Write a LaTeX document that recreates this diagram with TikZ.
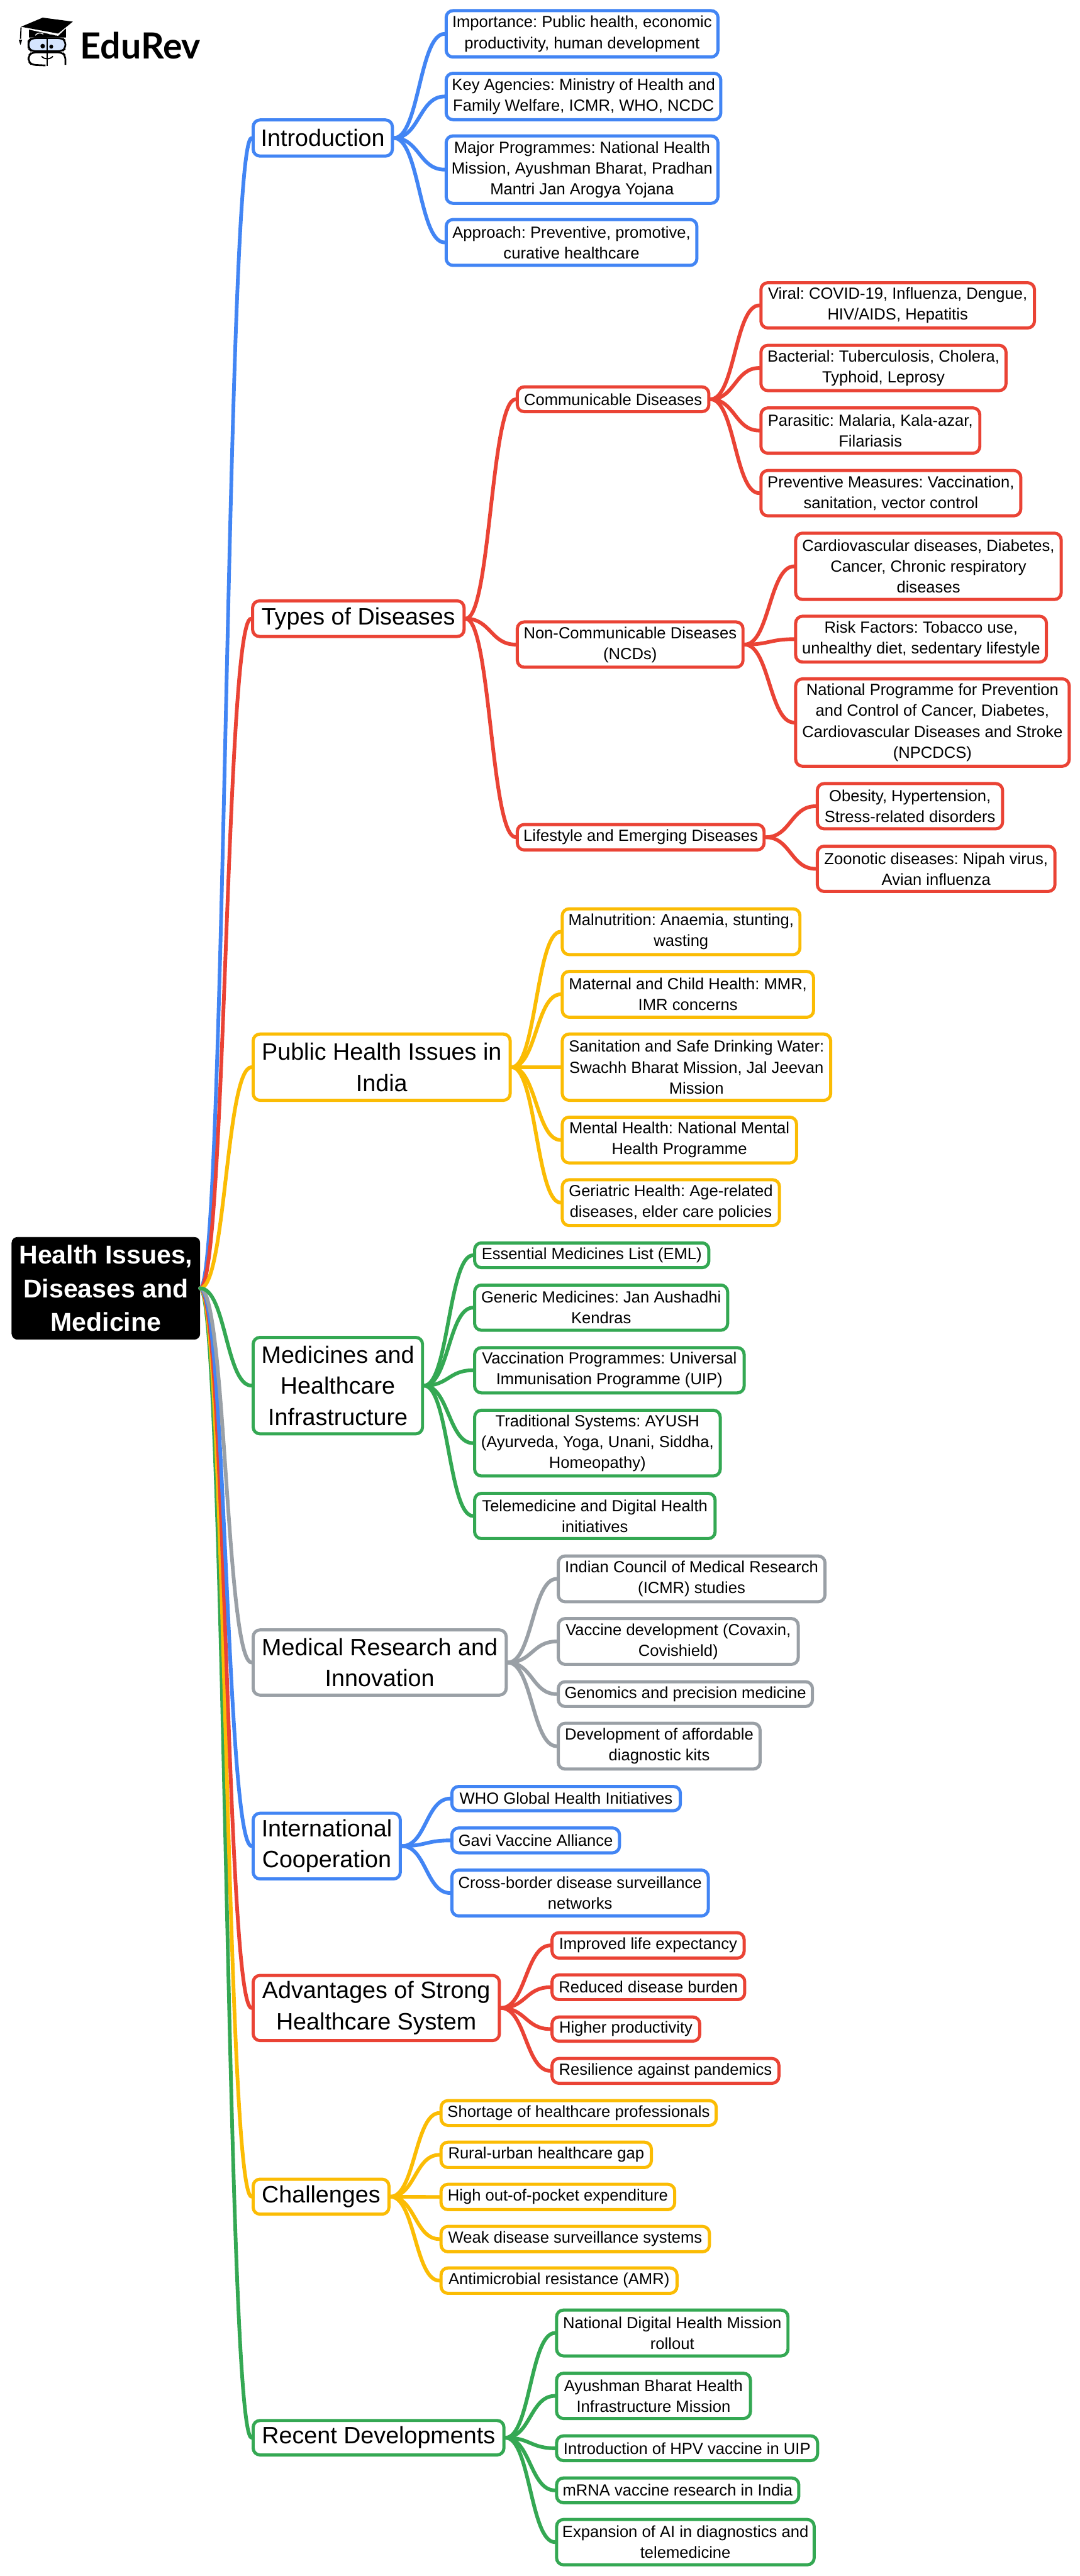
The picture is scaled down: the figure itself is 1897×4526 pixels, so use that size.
\documentclass[tikz,border=0pt]{standalone}
\usepackage{fontspec}
\setmainfont{Liberation Sans}
\newfontfamily\logofont{Lato}
\frenchspacing
\usetikzlibrary{calc}
\definecolor{mapblue}{HTML}{4285F4}
\definecolor{mapred}{HTML}{EA4335}
\definecolor{mapyellow}{HTML}{FBBC04}
\definecolor{mapgreen}{HTML}{34A853}
\definecolor{mapgrey}{HTML}{9AA0A6}
\tikzset{
	root/.style={rectangle, draw=black, fill=black, text=white, rounded corners=10*0.02cm, align=center, inner sep=0, font=\fontsize{25.8}{33.6}\selectfont\bfseries},
	branch/.style={rectangle, draw, fill=white, line width=5.5*0.02cm, rounded corners=12*0.02cm, align=center, inner sep=0, font=\fontsize{23.7}{31.2}\selectfont},
	leaf/.style={rectangle, draw, fill=white, line width=5.5*0.02cm, rounded corners=12*0.02cm, align=center, inner sep=0, font=\fontsize{16.1}{20.8}\selectfont},
	size/.style 2 args={minimum width=(#1-5.5)*0.02cm, minimum height=(#2-5.5)*0.02cm},
	curve/.style={line width=6.5*0.02cm, line cap=round, to path={.. controls ($(\tikztostart)!.5!(\tikztostart-|\tikztotarget)$) and ($(\tikztotarget)!.5!(\tikztotarget-|\tikztostart)$) .. (\tikztotarget)}}
}
\begin{document}
\begin{tikzpicture}[x=0.02cm, y=-0.02cm]
\useasboundingbox (0,0) rectangle (1897,4526);

% logo
\draw[black, line width=3*0.02cm, rounded corners=7*0.02cm] (83,67) -- (56,67) -- (50,72) -- (50,85) -- (56,90) -- (83,90);
\fill[mapblue!22, rounded corners=5*0.02cm] (51,68) rectangle (115,89);
\draw[black, line width=3*0.02cm, rounded corners=7*0.02cm] (50,78) -- (50,72) -- (56,67) -- (109,67) -- (115,72) -- (115,85) -- (109,90) -- (56,90) -- (50,85) -- cycle;
\draw[black, line width=3*0.02cm, rounded corners=7*0.02cm] (80,115) -- (56,114) -- (50,108) -- (50,98) -- (56,92) -- (109,92) -- (115,98) -- (115,114);
\fill[black] (51,52) -- (116,50) -- (116,66) -- (51,66) -- cycle;
\fill[white] (75,32) -- (128,38) -- (102,63) -- (37,49) -- cycle;
\fill[black] (75,31) -- (128,38) -- (102,59) -- (37,47) -- cycle;
\draw[white, line width=1.5*0.02cm] (62,62) .. controls (66,57) and (72,57) .. (76,60);
\draw[white, line width=1.5*0.02cm] (87,60) .. controls (91,58) and (95,58) .. (98,62);
\draw[black, line width=2*0.02cm] (37,48) -- (36,68);
\fill[black] (33,70) -- (39,70) -- (36,79) -- cycle;
\draw[black, line width=3*0.02cm] (83,67) -- (83,116);
\fill[black] (75,81) circle (4);
\fill[black] (90,82) circle (3.5);
\draw[black, line width=2*0.02cm] (73,99) .. controls (79,105) and (87,105) .. (93,99);
\node[anchor=base west, inner sep=0, font=\logofont\fontsize{36}{36}\selectfont\bfseries] (logotext) at (141,103) {EduRev};

% main
\node[root, size={336}{185}] (health) at (186,2263.5) {Health Issues,\\Diseases and\\Medicine};

\node[branch, draw=mapblue, size={250}{69}] (intro) at (567,242.5) {Introduction};
\node[leaf, draw=mapblue, size={483}{87}] (importance) at (1022.5,59.5) {Importance: Public health, economic\\productivity, human development};
\node[leaf, draw=mapblue, size={488}{87}] (agencies) at (1025,169.5) {Key Agencies: Ministry of Health and\\Family Welfare, ICMR, WHO, NCDC};
\node[leaf, draw=mapblue, size={483}{124}] (programmes) at (1022.5,298) {Major Programmes: National Health\\Mission, Ayushman Bharat, Pradhan\\Mantri Jan Arogya Yojana};
\node[leaf, draw=mapblue, size={446}{86}] (approach) at (1004,426) {Approach: Preventive, promotive,\\curative healthcare};

\node[branch, draw=mapred, size={377}{68}] (types) at (629.5,1087) {Types of Diseases};
\node[leaf, draw=mapred, size={342}{49}] (communicable) at (1077,701.5) {Communicable Diseases};
\node[leaf, draw=mapred, size={486}{85}] (viral) at (1577,536.5) {Viral: COVID-19, Influenza, Dengue,\\HIV/AIDS, Hepatitis};
\node[leaf, draw=mapred, size={436}{85}] (bacterial) at (1552,646.5) {Bacterial: Tuberculosis, Cholera,\\Typhoid, Leprosy};
\node[leaf, draw=mapred, size={390}{85}] (parasitic) at (1529,756.5) {Parasitic: Malaria, Kala-azar,\\Filariasis};
\node[leaf, draw=mapred, size={462}{85}] (preventive) at (1565,866.5) {Preventive Measures: Vaccination,\\sanitation, vector control};
\node[leaf, draw=mapred, size={402}{85}] (ncd) at (1107,1132.5) {Non-Communicable Diseases\\(NCDs)};
\node[leaf, draw=mapred, size={472}{122}] (cardio) at (1631,995) {Cardiovascular diseases, Diabetes,\\Cancer, Chronic respiratory\\diseases};
\node[leaf, draw=mapred, size={446}{86}] (risk) at (1618,1123) {Risk Factors: Tobacco use,\\unhealthy diet, sedentary lifestyle};
\node[leaf, draw=mapred, size={486}{159}] (npcdcs) at (1638,1269.5) {National Programme for Prevention\\and Control of Cancer, Diabetes,\\Cardiovascular Diseases and Stroke\\(NPCDCS)};
\node[leaf, draw=mapred, size={439}{50}] (lifestyle) at (1125.5,1471) {Lifestyle and Emerging Diseases};
\node[leaf, draw=mapred, size={331}{85}] (obesity) at (1598.5,1416.5) {Obesity, Hypertension,\\Stress-related disorders};
\node[leaf, draw=mapred, size={423}{85}] (zoonotic) at (1644.5,1526.5) {Zoonotic diseases: Nipah virus,\\Avian influenza};

\node[branch, draw=mapyellow, size={457}{122}] (public) at (670.5,1875) {Public Health Issues in\\India};
\node[leaf, draw=mapyellow, size={423}{86}] (malnutrition) at (1196.5,1637) {Malnutrition: Anaemia, stunting,\\wasting};
\node[leaf, draw=mapyellow, size={447}{86}] (maternal) at (1208.5,1747) {Maternal and Child Health: MMR,\\IMR concerns};
\node[leaf, draw=mapyellow, size={477}{122}] (sanitation) at (1223.5,1875) {Sanitation and Safe Drinking Water:\\Swachh Bharat Mission, Jal Jeevan\\Mission};
\node[leaf, draw=mapyellow, size={417}{86}] (mental) at (1193.5,2003) {Mental Health: National Mental\\Health Programme};
\node[leaf, draw=mapyellow, size={387}{86}] (geriatric) at (1178.5,2113) {Geriatric Health: Age-related\\diseases, elder care policies};

\node[branch, draw=mapgreen, size={303}{175}] (medicines) at (593.5,2434.5) {Medicines and\\Healthcare\\Infrastructure};
\node[leaf, draw=mapgreen, size={417}{49}] (eml) at (1039.5,2205.5) {Essential Medicines List (EML)};
\node[leaf, draw=mapgreen, size={450}{85}] (generic) at (1056,2297.5) {Generic Medicines: Jan Aushadhi\\Kendras};
\node[leaf, draw=mapgreen, size={479}{85}] (vaccination) at (1070.5,2407.5) {Vaccination Programmes: Universal\\Immunisation Programme (UIP)};
\node[leaf, draw=mapgreen, size={437}{121}] (traditional) at (1049.5,2535.5) {Traditional Systems: AYUSH\\(Ayurveda, Yoga, Unani, Siddha,\\Homeopathy)};
\node[leaf, draw=mapgreen, size={428}{85}] (telemedicine) at (1045,2663.5) {Telemedicine and Digital Health\\initiatives};

\node[branch, draw=mapgrey, size={450}{120}] (research) at (667,2921) {Medical Research and\\Innovation};
\node[leaf, draw=mapgrey, size={474}{86}] (icmr) at (1215,2774) {Indian Council of Medical Research\\(ICMR) studies};
\node[leaf, draw=mapgrey, size={427}{86}] (vaccine) at (1191.5,2884) {Vaccine development (Covaxin,\\Covishield)};
\node[leaf, draw=mapgrey, size={452}{49}] (genomics) at (1204,2976.5) {Genomics and precision medicine};
\node[leaf, draw=mapgrey, size={360}{86}] (diagnostic) at (1158,3068) {Development of affordable\\diagnostic kits};

\node[branch, draw=mapblue, size={264}{121}] (international) at (574,3243.5) {International\\Cooperation};
\node[leaf, draw=mapblue, size={407}{48}] (who) at (994.5,3160) {WHO Global Health Initiatives};
\node[leaf, draw=mapblue, size={300}{49}] (gavi) at (941,3233.5) {Gavi Vaccine Alliance};
\node[leaf, draw=mapblue, size={456}{86}] (crossborder) at (1019,3326) {Cross-border disease surveillance\\networks};

\node[branch, draw=mapred, size={438}{120}] (advantages) at (661,3528) {Advantages of Strong\\Healthcare System};
\node[leaf, draw=mapred, size={343}{50}] (life) at (1138.5,3418) {Improved life expectancy};
\node[leaf, draw=mapred, size={344}{49}] (burden) at (1139,3491.5) {Reduced disease burden};
\node[leaf, draw=mapred, size={265}{48}] (productivity) at (1099.5,3565) {Higher productivity};
\node[leaf, draw=mapred, size={404}{49}] (resilience) at (1169,3638.5) {Resilience against pandemics};

\node[branch, draw=mapyellow, size={244}{67}] (challenges) at (564,3859.5) {Challenges};
\node[leaf, draw=mapyellow, size={489}{49}] (shortage) at (1016.5,3712.5) {Shortage of healthcare professionals};
\node[leaf, draw=mapyellow, size={375}{50}] (gap) at (959.5,3786) {Rural-urban healthcare gap};
\node[leaf, draw=mapyellow, size={416}{50}] (expenditure) at (980,3860) {High out-of-pocket expenditure};
\node[leaf, draw=mapyellow, size={477}{50}] (surveillance) at (1010.5,3934) {Weak disease surveillance systems};
\node[leaf, draw=mapyellow, size={420}{50}] (amr) at (982,4007) {Antimicrobial resistance (AMR)};

\node[branch, draw=mapgreen, size={446}{66}] (recent) at (665,4283) {Recent Developments};
\node[leaf, draw=mapgreen, size={412}{86}] (digital) at (1181,4099) {National Digital Health Mission\\rollout};
\node[leaf, draw=mapgreen, size={346}{85}] (infrastructure) at (1148,4209.5) {Ayushman Bharat Health\\Infrastructure Mission};
\node[leaf, draw=mapgreen, size={464}{49}] (hpv) at (1207,4301.5) {Introduction of HPV vaccine in UIP};
\node[leaf, draw=mapgreen, size={431}{49}] (mrna) at (1190.5,4375.5) {mRNA vaccine research in India};
\node[leaf, draw=mapgreen, size={458}{85}] (expansion) at (1204,4466.5) {Expansion of AI in diagnostics and\\telemedicine};

% root links
\draw[curve, mapblue] (health.east) to (intro.west);
\draw[curve, mapred] (health.east) to (types.west);
\draw[curve, mapyellow] (health.east) to (public.west);
\draw[curve, mapgreen] (health.east) to (recent.west);
\draw[curve, mapyellow] (health.east) to (challenges.west);
\draw[curve, mapred] (health.east) to (advantages.west);
\draw[curve, mapblue] (health.east) to (international.west);
\draw[curve, mapgrey] (health.east) to (research.west);
\draw[curve, mapgreen] (health.east) to (medicines.west);

% branch links
\foreach \leafname in {importance, agencies, programmes, approach}
	\draw[curve, mapblue] (intro.east) to (\leafname.west);
\foreach \leafname in {communicable, ncd, lifestyle}
	\draw[curve, mapred] (types.east) to (\leafname.west);
\foreach \leafname in {viral, bacterial, parasitic, preventive}
	\draw[curve, mapred] (communicable.east) to (\leafname.west);
\foreach \leafname in {cardio, risk, npcdcs}
	\draw[curve, mapred] (ncd.east) to (\leafname.west);
\foreach \leafname in {obesity, zoonotic}
	\draw[curve, mapred] (lifestyle.east) to (\leafname.west);
\foreach \leafname in {malnutrition, maternal, sanitation, mental, geriatric}
	\draw[curve, mapyellow] (public.east) to (\leafname.west);
\foreach \leafname in {eml, generic, vaccination, traditional, telemedicine}
	\draw[curve, mapgreen] (medicines.east) to (\leafname.west);
\foreach \leafname in {icmr, vaccine, genomics, diagnostic}
	\draw[curve, mapgrey] (research.east) to (\leafname.west);
\foreach \leafname in {who, gavi, crossborder}
	\draw[curve, mapblue] (international.east) to (\leafname.west);
\foreach \leafname in {life, burden, productivity, resilience}
	\draw[curve, mapred] (advantages.east) to (\leafname.west);
\foreach \leafname in {shortage, gap, expenditure, surveillance, amr}
	\draw[curve, mapyellow] (challenges.east) to (\leafname.west);
\foreach \leafname in {digital, infrastructure, hpv, mrna, expansion}
	\draw[curve, mapgreen] (recent.east) to (\leafname.west);

\end{tikzpicture}
\end{document}
